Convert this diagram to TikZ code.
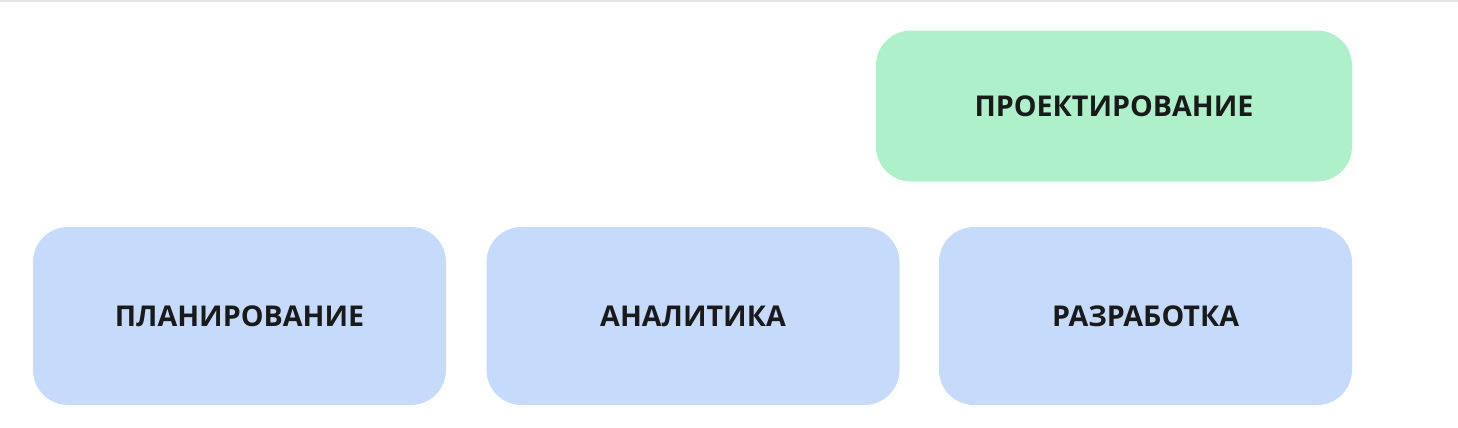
\documentclass[tikz,border=0pt]{standalone}
\usepackage{fontspec}
\setmainfont{Open Sans}
\definecolor{stepblue}{HTML}{C6DBFC}
\definecolor{stepgreen}{HTML}{AEF0C9}
\definecolor{steptext}{HTML}{1A1A1A}
\definecolor{topline}{HTML}{E2E2E2}
\begin{document}
\begin{tikzpicture}[font=\fontsize{16.3}{19}\selectfont\bfseries,
  stagebox/.style={rounded corners=0.7cm, minimum width=8.26cm, minimum height=3.56cm,
    text=steptext, inner sep=0pt}]
  \useasboundingbox (0,0) rectangle (29.16,-8.54);

  \draw[topline, line width=1.2pt] (0,-0.02) -- (29.16,-0.02);

  %------ top
  \node[stagebox, fill=stepgreen, minimum width=9.52cm, minimum height=3.02cm] (proekt) at (22.28,-2.12) {ПРОЕКТИРОВАНИЕ};

  %------ bottom row
  \node[stagebox, fill=stepblue] (plan) at (4.79,-6.32) {ПЛАНИРОВАНИЕ};
  \node[stagebox, fill=stepblue] (analit) at (13.86,-6.32) {АНАЛИТИКА};
  \node[stagebox, fill=stepblue] (razrab) at (22.91,-6.32) {РАЗРАБОТКА};

\end{tikzpicture}
\end{document}
